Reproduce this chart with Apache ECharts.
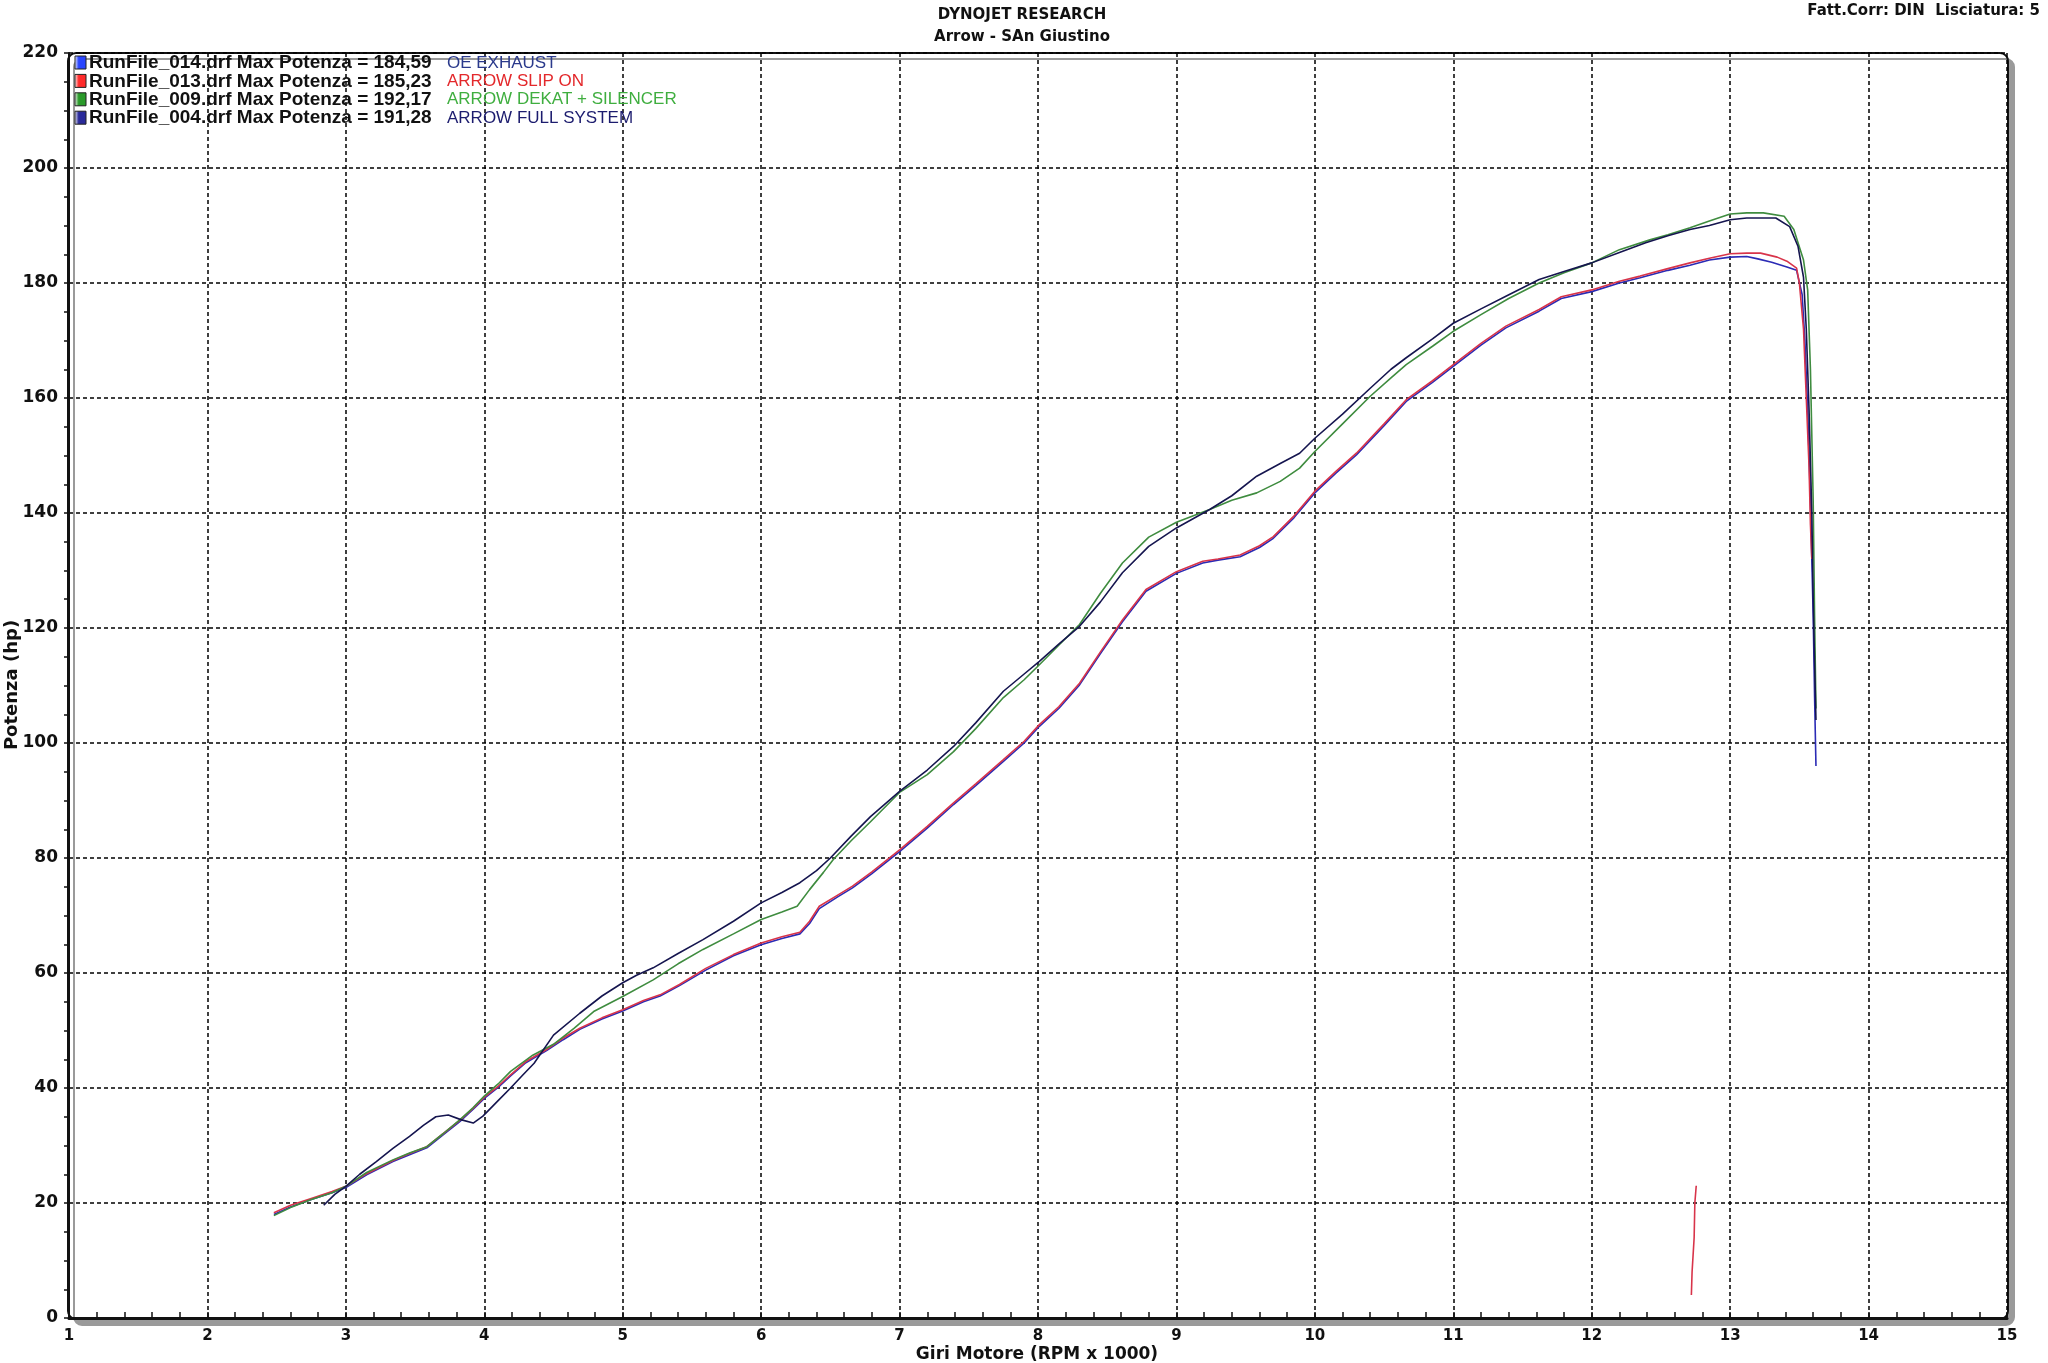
<!DOCTYPE html>
<html>
<head>
<meta charset="utf-8">
<title>Dynojet - Arrow</title>
<script src="https://cdn.jsdelivr.net/npm/echarts@6/dist/echarts.min.js"></script>
<style>
    html, body { margin: 0; padding: 0; background: #fff; }
    #dynoChart { width: 2048px; height: 1363px; }
</style>
</head>
<body>
<div id="dynoChart"></div>
<script>
// curve data [rpm x 1000, hp]
var oeExhaust = [
    [2.48, 18.0], [2.6, 19.3], [2.75, 20.6], [2.9, 21.8], [3.0, 22.7], [3.15, 24.9], [3.34, 27.2], [3.46, 28.4],
    [3.585, 29.6], [3.7, 31.8], [3.825, 34.2], [3.92, 36.3], [4.0, 38.2], [4.1, 40.1], [4.19, 42.1], [4.3, 44.4],
    [4.45, 46.5], [4.57, 48.4], [4.69, 50.2], [4.85, 52.0], [5.0, 53.4], [5.15, 55.0], [5.27, 56.0], [5.41, 57.8],
    [5.6, 60.5], [5.8, 63.0], [6.0, 64.9], [6.15, 66.0], [6.28, 66.8], [6.35, 68.6], [6.42, 71.2], [6.55, 73.2],
    [6.66, 74.8], [6.8, 77.3], [7.0, 81.1], [7.2, 85.2], [7.39, 89.3], [7.55, 92.6], [7.75, 96.8], [7.9, 100.0],
    [8.01, 102.9], [8.15, 106.0], [8.3, 110.1], [8.45, 115.5], [8.61, 121.1], [8.78, 126.4], [9.0, 129.5],
    [9.19, 131.3], [9.3, 131.8], [9.46, 132.4], [9.6, 134.0], [9.7, 135.6], [9.85, 139.2], [10.0, 143.5],
    [10.15, 146.9], [10.3, 150.1], [10.5, 155.2], [10.66, 159.4], [10.85, 162.7], [11.0, 165.5], [11.2, 169.2],
    [11.38, 172.2], [11.62, 175.1], [11.78, 177.3], [12.0, 178.5], [12.2, 180.0], [12.35, 180.9], [12.55, 182.2],
    [12.71, 183.1], [12.85, 184.0], [13.0, 184.5], [13.12, 184.6], [13.2, 184.2], [13.3, 183.6], [13.41, 182.8],
    [13.48, 182.2], [13.52, 178.0], [13.54, 170.0], [13.56, 158.0], [13.58, 142.0], [13.6, 122.0], [13.61, 108.0],
    [13.62, 96.0]
];
var slipOn = [
    [2.48, 18.3], [2.6, 19.6], [2.75, 20.8], [2.9, 22.0], [3.0, 22.9], [3.15, 25.1], [3.34, 27.4], [3.46, 28.6],
    [3.585, 29.8], [3.7, 32.0], [3.825, 34.4], [3.92, 36.5], [4.0, 38.4], [4.1, 40.3], [4.19, 42.3], [4.3, 44.6],
    [4.45, 46.7], [4.57, 48.7], [4.69, 50.4], [4.85, 52.2], [5.0, 53.6], [5.15, 55.2], [5.27, 56.2], [5.41, 58.0],
    [5.6, 60.8], [5.8, 63.2], [6.0, 65.2], [6.15, 66.3], [6.28, 67.1], [6.35, 69.0], [6.42, 71.6], [6.55, 73.5],
    [6.66, 75.1], [6.8, 77.6], [7.0, 81.4], [7.2, 85.5], [7.39, 89.6], [7.55, 92.9], [7.75, 97.1], [7.9, 100.3],
    [8.01, 103.2], [8.15, 106.3], [8.3, 110.4], [8.45, 115.8], [8.61, 121.4], [8.78, 126.7], [9.0, 129.8],
    [9.19, 131.6], [9.3, 132.0], [9.46, 132.7], [9.6, 134.3], [9.7, 135.9], [9.85, 139.5], [10.0, 143.8],
    [10.15, 147.2], [10.3, 150.4], [10.5, 155.5], [10.66, 159.7], [10.85, 163.0], [11.0, 165.8], [11.2, 169.5],
    [11.38, 172.5], [11.62, 175.4], [11.78, 177.6], [12.0, 178.8], [12.2, 180.3], [12.35, 181.2], [12.55, 182.5],
    [12.71, 183.5], [12.85, 184.3], [13.0, 185.1], [13.12, 185.2], [13.22, 185.2], [13.34, 184.5], [13.41, 183.8],
    [13.48, 182.6], [13.5, 180.0], [13.53, 172.0], [13.55, 160.0], [13.57, 148.0], [13.58, 138.0], [13.59, 132.0]
];
var slipOnSpike = [[12.72, 4], [12.725, 8], [12.74, 14], [12.745, 20], [12.755, 23]];
var dekatSilencer = [
    [2.48, 17.8], [2.6, 19.2], [2.75, 20.6], [2.9, 21.8], [3.0, 22.9], [3.15, 25.3], [3.34, 27.5], [3.46, 28.7],
    [3.585, 29.8], [3.7, 32.0], [3.825, 34.5], [3.92, 36.6], [4.0, 38.6], [4.1, 40.7], [4.19, 42.9], [4.35, 45.7],
    [4.5, 47.6], [4.65, 50.4], [4.79, 53.3], [5.0, 55.9], [5.22, 58.8], [5.4, 61.6], [5.58, 64.1], [5.8, 66.8],
    [6.0, 69.3], [6.15, 70.6], [6.26, 71.6], [6.35, 74.5], [6.45, 77.5], [6.52, 79.7], [6.65, 83.0], [6.79, 86.3],
    [7.0, 91.4], [7.2, 94.5], [7.39, 98.5], [7.55, 102.5], [7.75, 107.9], [7.9, 111.0], [8.01, 113.6], [8.15, 117.0],
    [8.3, 120.6], [8.45, 126.0], [8.61, 131.3], [8.8, 135.8], [9.0, 138.4], [9.24, 140.6], [9.4, 142.2],
    [9.58, 143.5], [9.75, 145.5], [9.89, 147.8], [10.0, 150.7], [10.2, 155.5], [10.4, 160.3], [10.55, 163.5],
    [10.66, 165.8], [10.85, 169.0], [11.0, 171.6], [11.2, 174.5], [11.4, 177.3], [11.62, 180.0], [11.8, 181.8],
    [12.0, 183.5], [12.2, 185.8], [12.42, 187.5], [12.55, 188.4], [12.71, 189.6], [12.85, 190.8], [13.0, 192.0],
    [13.12, 192.2], [13.24, 192.2], [13.39, 191.6], [13.46, 189.3], [13.53, 184.0], [13.56, 178.8], [13.58, 165.0],
    [13.6, 142.0], [13.61, 122.0], [13.62, 106.0]
];
var fullSystem = [
    [2.84, 19.6], [2.92, 21.5], [3.0, 22.9], [3.1, 25.0], [3.22, 27.2], [3.34, 29.5], [3.46, 31.6], [3.56, 33.5],
    [3.65, 35.0], [3.74, 35.3], [3.83, 34.5], [3.92, 33.9], [3.99, 35.1], [4.1, 37.8], [4.19, 40.0], [4.28, 42.3],
    [4.36, 44.3], [4.5, 49.2], [4.69, 53.0], [4.85, 56.0], [5.0, 58.3], [5.1, 59.6], [5.22, 60.9], [5.4, 63.4],
    [5.58, 65.8], [5.8, 69.0], [6.0, 72.2], [6.15, 74.0], [6.28, 75.7], [6.4, 77.8], [6.5, 80.0], [6.65, 83.8],
    [6.79, 87.2], [7.0, 91.6], [7.2, 95.3], [7.39, 99.4], [7.55, 103.5], [7.75, 109.0], [7.9, 112.0], [8.01, 114.2],
    [8.15, 117.2], [8.3, 120.3], [8.45, 124.5], [8.61, 129.6], [8.8, 134.2], [9.0, 137.4], [9.24, 140.6],
    [9.4, 143.0], [9.58, 146.4], [9.75, 148.6], [9.89, 150.4], [10.0, 153.0], [10.2, 157.2], [10.4, 161.7],
    [10.55, 165.0], [10.66, 167.0], [10.85, 170.3], [11.0, 173.0], [11.2, 175.5], [11.38, 177.7], [11.62, 180.6],
    [11.8, 182.0], [12.0, 183.5], [12.2, 185.3], [12.39, 187.0], [12.55, 188.2], [12.71, 189.3], [12.85, 190.0],
    [13.0, 191.0], [13.12, 191.3], [13.33, 191.3], [13.43, 189.8], [13.49, 186.4], [13.53, 181.0], [13.55, 172.0],
    [13.57, 158.0], [13.59, 140.0], [13.6, 125.0], [13.61, 114.0], [13.62, 104.0]
];

// legend rows
var runFiles = ['RunFile_014.drf Max Potenza = 184,59', 'RunFile_013.drf Max Potenza = 185,23',
    'RunFile_009.drf Max Potenza = 192,17', 'RunFile_004.drf Max Potenza = 191,28'];
var runNames = ['OE EXHAUST', 'ARROW SLIP ON', 'ARROW DEKAT + SILENCER', 'ARROW FULL SYSTEM'];
var lineColors = ['#2b2bb5', '#d8344a', '#3f8c3f', '#15154f'];
var nameColors = ['#2b3a8c', '#e3282b', '#3fae3f', '#1c1c6e'];
var boxColors = ['#2a46ff', '#ff2a2a', '#2a9a2a', '#2a2a9a'];

var BOLD_FONT = '"DejaVu Sans", Verdana, sans-serif';

var chart = echarts.init(document.getElementById('dynoChart'));

// legend block drawn top-left inside the frame
var legendEls = [];
for (var i = 0; i < runFiles.length; i++) {
    var cy = 63 + i * 18.4;
    legendEls.push({
        type: 'rect', z: 20,
        shape: { x: 75, y: cy - 7, width: 11, height: 13 },
        style: {
            fill: new echarts.graphic.LinearGradient(0, 0, 1, 0, [
                { offset: 0, color: '#ffffff' }, { offset: 0.35, color: boxColors[i] }, { offset: 1, color: boxColors[i] }
            ]),
            stroke: '#222', lineWidth: 1
        }
    });
    legendEls.push({
        type: 'text', z: 20, x: 89, y: cy,
        style: { text: runFiles[i], fill: '#111', font: 'bold 19px "Liberation Sans", Arial, sans-serif', verticalAlign: 'middle' }
    });
    legendEls.push({
        type: 'text', z: 20, x: 447, y: cy,
        style: { text: runNames[i], fill: nameColors[i], font: '17px "Liberation Sans", Arial, sans-serif', verticalAlign: 'middle' }
    });
}

var seriesList = [
    { name: runNames[0], data: oeExhaust, color: lineColors[0] },
    { name: runNames[1], data: slipOn, color: lineColors[1] },
    { name: runNames[1] + ' ', data: slipOnSpike, color: lineColors[1] },
    { name: runNames[2], data: dekatSilencer, color: lineColors[2] },
    { name: runNames[3], data: fullSystem, color: lineColors[3] }
].map(function (s) {
    return {
        type: 'line', name: s.name, data: s.data, showSymbol: false, smooth: false,
        lineStyle: { color: s.color, width: 1.6 }, itemStyle: { color: s.color }, z: 5
    };
});

var option = {
    animation: false,
    backgroundColor: '#fff',
    // keep the plot box where the dyno sheet has it, labels sit outside
    grid: { left: 69, right: 41, top: 53, bottom: 45, containLabel: false, outerBoundsMode: 'none' },
    graphic: [
        // rounded frame with gray drop shadow
        {
            type: 'rect', z: -10, silent: true,
            shape: { x: 68, y: 53, width: 1940, height: 1266, r: 8 },
            style: { fill: '#fff', stroke: '#111', lineWidth: 2, shadowColor: '#9a9a9a', shadowOffsetX: 6, shadowOffsetY: 6, shadowBlur: 0 }
        },
        { type: 'text', x: 1022, y: 15, style: { text: 'DYNOJET RESEARCH', fill: '#111', font: 'bold 15px ' + BOLD_FONT, align: 'center', verticalAlign: 'middle' } },
        { type: 'text', x: 1022, y: 37, style: { text: 'Arrow - SAn Giustino', fill: '#111', font: 'bold 15px ' + BOLD_FONT, align: 'center', verticalAlign: 'middle' } },
        { type: 'text', x: 2040, y: 11, style: { text: 'Fatt.Corr: DIN  Lisciatura: 5', fill: '#111', font: 'bold 15px ' + BOLD_FONT, align: 'right', verticalAlign: 'middle' } },
        // axis titles
        { type: 'text', x: 1037, y: 1355, style: { text: 'Giri Motore (RPM x 1000)', fill: '#111', font: 'bold 17px ' + BOLD_FONT, align: 'center', verticalAlign: 'middle' } },
        { type: 'text', x: 12, y: 685, rotation: Math.PI / 2, style: { text: 'Potenza (hp)', fill: '#111', font: 'bold 18px ' + BOLD_FONT, align: 'center', verticalAlign: 'middle' } }
    ].concat(legendEls),
    xAxis: {
        type: 'value', min: 1, max: 15, interval: 1,
        axisLine: { lineStyle: { color: '#111', width: 3 } },
        axisTick: { inside: true, length: 6, lineStyle: { color: '#111', width: 1.5 } },
        minorTick: { show: true, splitNumber: 5, length: 6, lineStyle: { color: '#111', width: 1.5 } },
        axisLabel: { fontFamily: BOLD_FONT, fontWeight: 'bold', fontSize: 15, color: '#111', margin: 11 },
        splitLine: { show: true, lineStyle: { color: '#000', width: 1.5, type: [4, 3] } }
    },
    yAxis: {
        type: 'value', min: 0, max: 220, interval: 20,
        axisLine: { show: true, lineStyle: { color: '#111', width: 2 } },
        axisTick: { show: true, inside: false, length: 5, lineStyle: { color: '#111', width: 1.5 } },
        minorTick: { show: true, splitNumber: 4, length: 5, lineStyle: { color: '#111', width: 1.5 } },
        axisLabel: { fontFamily: BOLD_FONT, fontWeight: 'bold', fontSize: 17, color: '#111', margin: 11 },
        splitLine: { show: true, lineStyle: { color: '#000', width: 1.5, type: [4, 3] } }
    },
    series: seriesList
};

chart.setOption(option);
</script>
</body>
</html>
